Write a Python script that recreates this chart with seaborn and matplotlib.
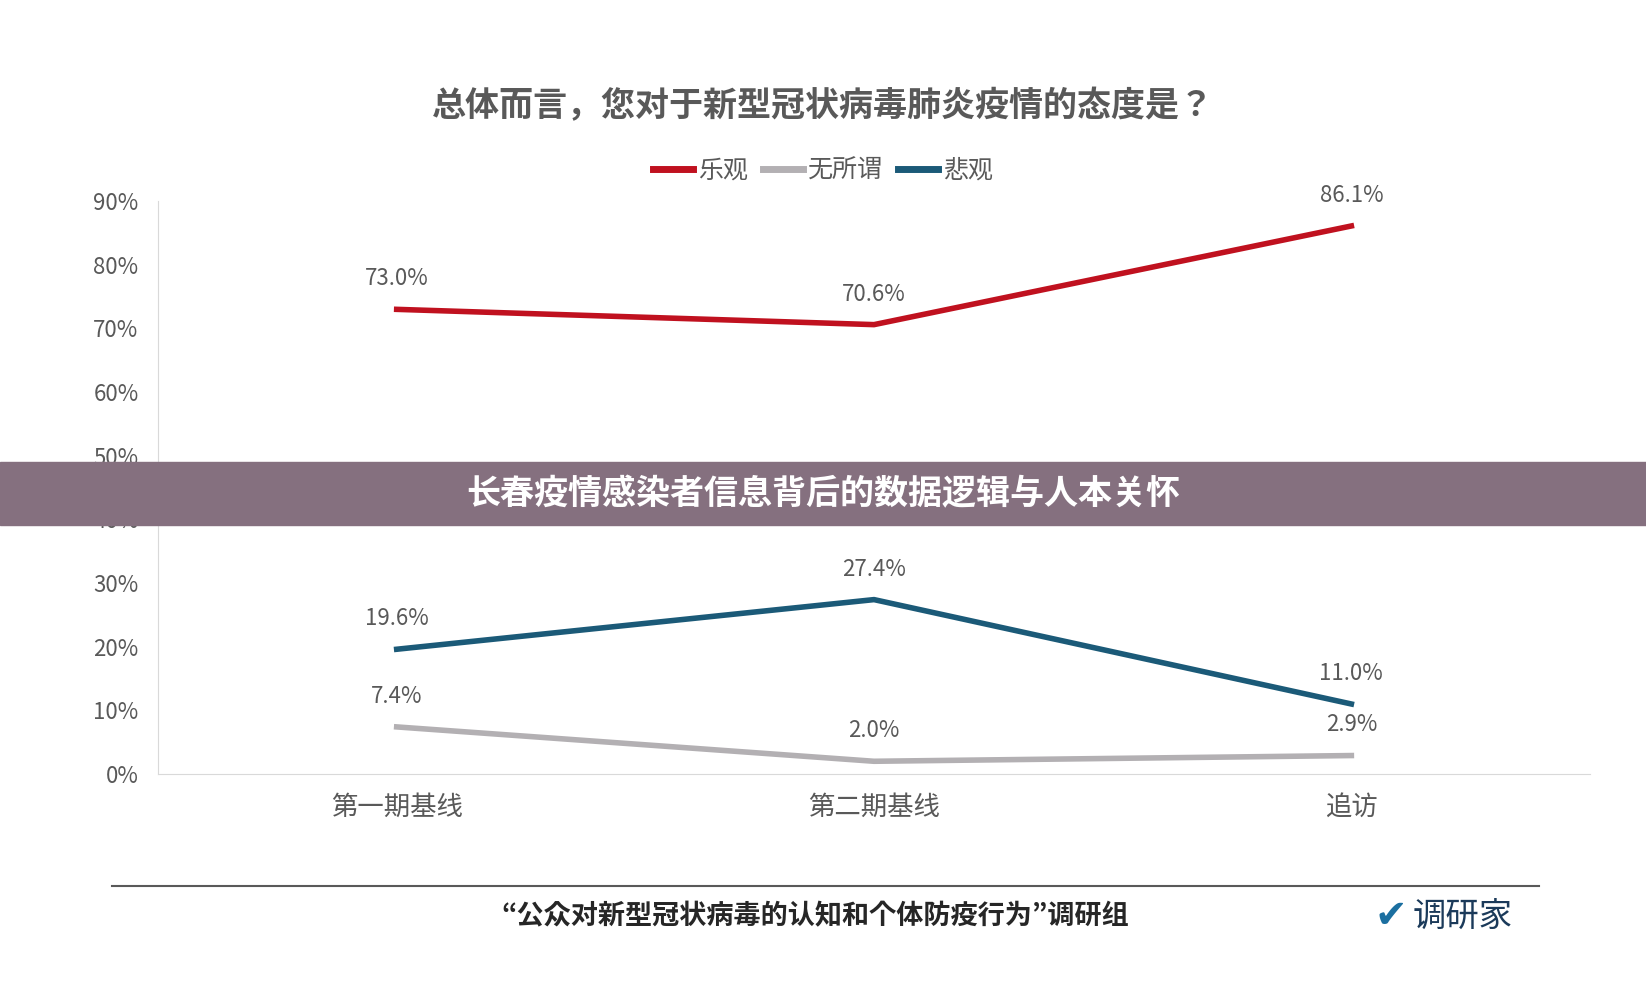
import matplotlib
matplotlib.use("Agg")
import matplotlib.pyplot as plt
from matplotlib import font_manager as fm
import seaborn as sns
import pandas as pd

cands = [f for f in fm.fontManager.ttflist if "CJK" in f.name or "CJK" in f.fname]
names = sorted(set(f.name for f in cands))
pref = [n for n in names if "SC" in n] or names
fam = pref[0] if pref else "DejaVu Sans"
plt.rcParams["font.family"] = [fam, "DejaVu Sans"]

categories = ["第一期基线", "第二期基线", "追访"]
optimistic = [73.0, 70.6, 86.1]
indifferent = [7.4, 2.0, 2.9]
pessimistic = [19.6, 27.4, 11.0]
series_names = ["乐观", "无所谓", "悲观"]
colors = ["#C0111F", "#B3B0B3", "#1B5A78"]
yticks = [0, 10, 20, 30, 40, 50, 60, 70, 80, 90]

rows = []
for name, vals in zip(series_names, [optimistic, indifferent, pessimistic]):
    for i, (c, v) in enumerate(zip(categories, vals)):
        rows.append({"x": i, "cat": c, "series": name, "value": v})
df = pd.DataFrame(rows)

fig = plt.figure(figsize=(16.46, 9.86), dpi=100)
ax = fig.add_axes([0.096, 0.215, 0.87, 0.581])
sns.lineplot(data=df, x="x", y="value", hue="series", palette=colors,
             hue_order=series_names, linewidth=4, ax=ax, legend=False)

for name, vals in zip(series_names, [optimistic, indifferent, pessimistic]):
    for i, v in enumerate(vals):
        ax.text(i, v + 3, f"{v:.1f}%", ha="center", va="bottom", fontsize=16, color="#595959")

ax.set_xlim(-0.5, 2.5)
ax.set_ylim(0, 90)
ax.set_yticks(yticks)
ax.set_yticklabels([f"{t}%" for t in yticks], fontsize=16, color="#595959")
ax.set_xticks(range(3))
ax.set_xticklabels(categories, fontsize=19, color="#595959")
ax.tick_params(length=0, pad=14)
ax.set_xlabel("")
ax.set_ylabel("")
for s in ["top", "right"]:
    ax.spines[s].set_visible(False)
ax.spines["left"].set_color("#D9D9D9")
ax.spines["bottom"].set_color("#D9D9D9")

fig.text(0.5, 0.893, "总体而言，您对于新型冠状病毒肺炎疫情的态度是？", ha="center", va="center",
         fontsize=24.5, color="#595959", fontweight="bold")

from matplotlib.lines import Line2D
handles = [Line2D([0], [0], color=c, lw=5) for c in colors]
fig.legend(handles, series_names, loc="center", bbox_to_anchor=(0.5, 0.827), ncol=3,
           frameon=False, fontsize=18, handlelength=1.6, handletextpad=0.2, columnspacing=0.6,
           labelcolor="#595959")

fig.patches.append(plt.Rectangle((0, 0.468), 1, 0.063, transform=fig.transFigure,
                                 color="#85707F", zorder=5))
fig.text(0.5, 0.499, "长春疫情感染者信息背后的数据逻辑与人本关怀", ha="center", va="center",
         fontsize=24.5, color="white", fontweight="bold", zorder=6)

fig.add_artist(Line2D([0.068, 0.935], [0.101, 0.101], transform=fig.transFigure,
                      color="#595959", lw=1.5))
fig.text(0.495, 0.071, "“公众对新型冠状病毒的认知和个体防疫行为”调研组", ha="center", va="center",
         fontsize=19.5, color="#262626", fontweight="bold")
fig.text(0.858, 0.071, "调研家", ha="left", va="center", fontsize=24, color="#1B3A5A")
fig.text(0.845, 0.071, "✔", ha="center", va="center", fontsize=28, color="#1B6FA0", fontfamily="DejaVu Sans")

fig.savefig("out.png", dpi=100, facecolor="white")
